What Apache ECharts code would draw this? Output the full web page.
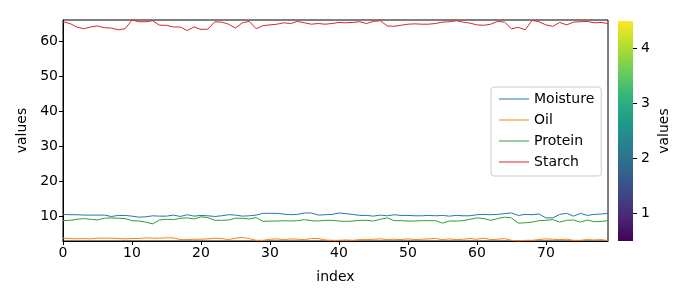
<!DOCTYPE html>
<html><head><meta charset="utf-8">
<script src="https://cdn.jsdelivr.net/npm/echarts@6/dist/echarts.min.js"></script>
<style>html,body{margin:0;padding:0;background:#fff}#c{width:700px;height:300px}</style>
</head><body><div id="c"></div>
<script>
const seriesNames = ['Moisture', 'Oil', 'Protein', 'Starch'];
const moisture = [10.5,10.4,10.4,10.3,10.3,10.3,10.3,9.9,10.2,10.2,10.0,9.7,9.8,10.1,10.0,10.0,10.3,9.9,10.4,10.0,10.2,10.1,9.9,10.1,10.4,10.3,10.0,10.1,10.3,10.8,10.8,10.8,10.6,10.4,10.5,10.9,10.9,10.3,10.4,10.5,10.9,10.7,10.5,10.2,10.2,10.0,10.3,10.1,10.4,10.2,10.2,10.1,10.1,10.2,10.1,10.2,10.0,10.2,10.1,10.1,10.4,10.5,10.4,10.5,10.7,10.9,10.2,10.5,10.4,10.6,9.5,9.5,10.5,10.8,10.0,10.8,10.2,10.5,10.6,10.8];
const oil = [3.7,3.6,3.5,3.6,3.5,3.7,3.7,3.7,3.6,3.5,3.6,3.6,3.8,3.7,3.7,3.8,3.8,3.3,3.3,3.4,3.4,3.5,3.7,3.6,3.3,3.7,3.9,3.6,3.1,3.1,3.4,3.5,3.3,3.5,3.4,3.3,3.6,3.6,3.2,3.1,3.1,3.2,3.1,3.3,3.3,3.4,3.5,3.3,3.4,3.3,3.5,3.3,3.4,3.5,3.6,3.3,3.5,3.3,3.4,3.6,3.4,3.7,3.3,3.4,3.6,3.1,2.9,3.1,3.1,3.3,3.5,3.4,3.3,3.4,3.1,3.1,3.3,3.2,3.3,3.0];
const protein = [8.7,8.8,9.1,9.3,9.1,8.9,9.4,9.5,9.4,9.3,8.7,8.6,8.3,7.8,8.9,9.1,9.0,9.4,9.5,9.2,9.8,9.6,8.8,8.8,8.9,9.4,9.4,9.2,9.6,8.5,8.6,8.6,8.7,8.6,8.7,9.0,8.7,8.6,8.8,8.8,8.6,8.5,8.6,8.8,8.8,8.6,9.1,9.5,8.7,8.7,8.6,8.6,8.7,8.7,8.7,8.0,8.6,8.6,8.7,9.1,9.5,9.3,8.8,9.3,9.7,9.5,8.0,8.1,8.3,8.7,8.8,9.0,8.3,8.8,8.9,8.3,8.9,8.4,8.5,8.7];
const starch = [65.5,65.0,64.0,63.5,64.0,64.3,63.8,63.7,63.2,63.5,66.0,65.5,65.5,65.8,64.5,64.5,64.0,64.0,63.0,64.0,63.3,63.4,65.5,65.4,64.8,63.7,65.2,65.6,63.5,64.4,64.6,64.8,65.2,65.0,65.6,65.2,64.8,65.0,64.8,65.0,65.3,65.2,65.3,65.5,65.0,65.6,65.8,64.3,64.2,64.5,64.8,64.9,64.8,64.8,65.0,65.4,65.5,65.8,65.4,65.1,64.6,64.5,64.8,65.6,65.4,63.5,63.9,63.2,65.9,65.5,64.6,64.2,65.3,64.6,65.4,65.5,65.6,65.2,65.3,65.0];
const xTicks = [0,10,20,30,40,50,60,70];
const yTicks = [10,20,30,40,50,60];
const cbTicks = [1,2,3,4];
const cbRange = [0.5, 4.5];
const colors = ['#1f77b4','#ff7f0e','#2ca02c','#d62728'];
const viridis = ['#440154','#482878','#3e4989','#31688e','#26828e','#1f9e89','#35b779','#6ece58','#b5de2b','#fde725'];

const allData = [moisture, oil, protein, starch];
const allVals = allData.flat();
const yMin = Math.min(...allVals), yMax = Math.max(...allVals);
const font = 'DejaVu Sans';
const fs = 14;

const chart = echarts.init(document.getElementById('c'));
chart.setOption({
  animation: false,
  textStyle: {fontFamily: font},
  grid: [
    {left: 63, right: 92, top: 20, bottom: 59, show: true, borderColor: '#000', borderWidth: 1, backgroundColor: 'transparent'},
    {left: 618, width: 15, top: 21, bottom: 59}
  ],
  xAxis: [
    {type: 'value', gridIndex: 0, min: 0, max: moisture.length - 1,
     name: 'index', nameLocation: 'middle', nameGap: 29, nameTextStyle: {fontSize: fs, color: '#000', fontFamily: font},
     axisLine: {show: true, onZero: false, lineStyle: {color: '#000'}},
     axisTick: {show: true, length: 4, lineStyle: {color: '#000'}, customValues: xTicks},
     axisLabel: {color: '#000', fontSize: fs, margin: 5, customValues: xTicks, fontFamily: font},
     splitLine: {show: false}},
    {type: 'category', gridIndex: 1, data: ['cb'], show: false}
  ],
  yAxis: [
    {type: 'value', gridIndex: 0, min: yMin, max: yMax,
     name: 'values', nameLocation: 'middle', nameGap: 34, nameRotate: 90, nameTextStyle: {fontSize: fs, color: '#000', fontFamily: font},
     axisLine: {show: true, onZero: false, lineStyle: {color: '#000'}},
     axisTick: {show: true, length: 4, lineStyle: {color: '#000'}, customValues: yTicks},
     axisLabel: {color: '#000', fontSize: fs, margin: 5, customValues: yTicks, fontFamily: font},
     splitLine: {show: false}},
    {type: 'value', gridIndex: 1, min: cbRange[0], max: cbRange[1], position: 'right',
     name: 'values', nameLocation: 'middle', nameGap: 24, nameRotate: 90, nameTextStyle: {fontSize: fs, color: '#000', fontFamily: font},
     axisLine: {show: false},
     axisTick: {show: true, length: 4, lineStyle: {color: '#000'}, customValues: cbTicks},
     axisLabel: {color: '#000', fontSize: fs, margin: 8, customValues: cbTicks, fontFamily: font},
     splitLine: {show: false}},
  ],
  legend: {
    orient: 'vertical', left: 491, top: 87, padding: [3, 7, 5, 8], itemGap: 3,
    backgroundColor: 'rgba(255,255,255,0.8)', borderColor: '#ccc', borderWidth: 1, borderRadius: 3,
    itemWidth: 30, itemHeight: 16, icon: 'path://M0,7.5 L30,7.5 L30,8.5 L0,8.5 Z',
    textStyle: {fontSize: fs, color: '#000', fontFamily: font, height: 18, lineHeight: 18},
    data: seriesNames
  },
  series: [
    ...seriesNames.map((n, k) => ({
      name: n, type: 'line', xAxisIndex: 0, yAxisIndex: 0, showSymbol: false, symbol: 'none',
      color: colors[k], lineStyle: {width: 1, color: colors[k]},
      data: allData[k].map((v, i) => [i, v])
    })),
    {type: 'bar', xAxisIndex: 1, yAxisIndex: 1, barWidth: '100%', silent: true,
     itemStyle: {color: new echarts.graphic.LinearGradient(0, 1, 0, 0, viridis.map((c, i) => ({offset: i / (viridis.length - 1), color: c})))},
     data: [cbRange[1]]}
  ]
});
</script></body></html>
